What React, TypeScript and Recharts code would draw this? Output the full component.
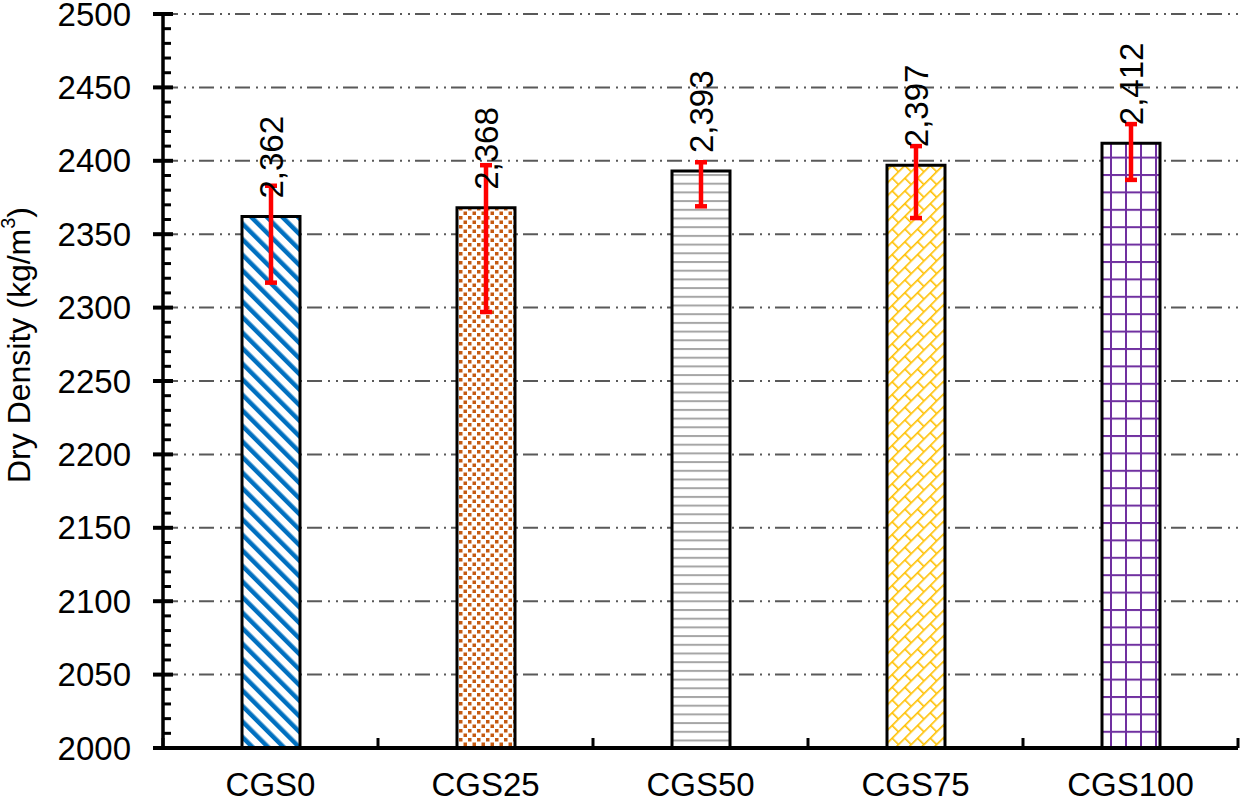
import {
  BarChart,
  Bar,
  XAxis,
  YAxis,
  CartesianGrid,
  ErrorBar,
  LabelList,
  Cell,
} from 'recharts'

const CATEGORIES = ['CGS0', 'CGS25', 'CGS50', 'CGS75', 'CGS100']
const DRY_DENSITY = [2362, 2368, 2393, 2397, 2412]
const ERR_MINUS = [45, 71, 24, 36, 25]
const ERR_PLUS = [21, 29, 6, 13, 13]
const MAJOR_TICKS = [2000, 2050, 2100, 2150, 2200, 2250, 2300, 2350, 2400, 2450, 2500]
const MINOR_STEP = 10
const PATTERN_IDS = ['pat-diag', 'pat-dots', 'pat-hlines', 'pat-brick', 'pat-grid']

const FONT = '"Liberation Sans", Arial, sans-serif'

const data = CATEGORIES.map((name, i) => ({
  name,
  density: DRY_DENSITY[i],
  err: [ERR_MINUS[i], ERR_PLUS[i]],
}))

const allTicks: number[] = []
for (let v = MAJOR_TICKS[0]; v <= MAJOR_TICKS[MAJOR_TICKS.length - 1]; v += MINOR_STEP) allTicks.push(v)

function YTick({ x, y, payload }: any) {
  const v = payload.value
  const major = v % 50 === 0
  return (
    <g>
      {major ? (
        <line x1={x - 10} x2={x + 10} y1={y} y2={y} stroke="#000" strokeWidth={4} />
      ) : (
        <line x1={x} x2={x + 8} y1={y} y2={y} stroke="#000" strokeWidth={3} />
      )}
      {major && (
        <text
          x={x - 32}
          y={y}
          textAnchor="end"
          dominantBaseline="central"
          fontSize={33}
          fontFamily={FONT}
          fill="#000"
        >
          {v}
        </text>
      )}
    </g>
  )
}

function XTick({ x, y, payload, index }: any) {
  const half = payload.offset || 107.5
  return (
    <g>
      <line x1={x - half} x2={x - half} y1={y} y2={y - 10} stroke="#000" strokeWidth={3} />
      {index === CATEGORIES.length - 1 && (
        <line x1={x + half} x2={x + half} y1={y} y2={y - 10} stroke="#000" strokeWidth={3} />
      )}
      <text x={x} y={y + 48} textAnchor="middle" fontSize={33} fontFamily={FONT} fill="#000">
        {payload.value}
      </text>
    </g>
  )
}

function ValueLabel({ x, y, width, value }: any) {
  const cx = x + width / 2
  const cy = y - 18
  return (
    <text
      transform={`translate(${cx}, ${cy}) rotate(-90)`}
      textAnchor="start"
      dominantBaseline="central"
      fontSize={33}
      fontFamily={FONT}
      fill="#000"
    >
      {Number(value).toLocaleString('en-US')}
    </text>
  )
}

function YTitle() {
  return (
    <text
      transform="translate(19, 345) rotate(-90)"
      textAnchor="middle"
      dominantBaseline="central"
      fontSize={32}
      fontFamily={FONT}
      fill="#000"
    >
      Dry Density (kg/m<tspan baselineShift="super" fontSize={20}>3</tspan>)
    </text>
  )
}

export default function App() {
  return (
    <div style={{ position: 'absolute', left: 0, top: 0, width: 1240, height: 802, background: '#fff' }}>
      <BarChart
        width={1240}
        height={802}
        data={data}
        margin={{ top: 14, right: 2, bottom: 0, left: 0 }}
      >
        <defs>
          <pattern id="pat-diag" patternUnits="userSpaceOnUse" width={11} height={11} patternTransform="rotate(-45)">
            <rect width={11} height={11} fill="#fff" />
            <rect x={0} y={0} width={4.5} height={11} fill="#0070C0" />
          </pattern>
          <pattern id="pat-dots" patternUnits="userSpaceOnUse" width={9} height={9}>
            <rect width={9} height={9} fill="#fff" />
            <rect x={0} y={0} width={3.5} height={3.5} fill="#C55A11" />
            <rect x={4.5} y={4.5} width={3.5} height={3.5} fill="#C55A11" />
          </pattern>
          <pattern id="pat-hlines" patternUnits="userSpaceOnUse" width={10} height={8.7}>
            <rect width={10} height={8.7} fill="#fff" />
            <rect x={0} y={0} width={10} height={2} fill="#A6A6A6" />
          </pattern>
          <pattern id="pat-brick" patternUnits="userSpaceOnUse" width={18} height={18} patternTransform="rotate(-45)">
            <rect width={18} height={18} fill="#fff" />
            <rect x={0} y={0} width={18} height={1.6} fill="#FFC000" />
            <rect x={0} y={9} width={18} height={1.6} fill="#FFC000" />
            <rect x={0} y={0} width={1.6} height={9} fill="#FFC000" />
            <rect x={9} y={9} width={1.6} height={9} fill="#FFC000" />
          </pattern>
          <pattern id="pat-grid" patternUnits="userSpaceOnUse" width={15} height={17.4}>
            <rect width={15} height={17.4} fill="#fff" />
            <rect x={0} y={0} width={15} height={2} fill="#7030A0" />
            <rect x={0} y={0} width={2} height={17.4} fill="#7030A0" />
          </pattern>
        </defs>
        <CartesianGrid
          vertical={false}
          horizontalValues={MAJOR_TICKS.slice(1)}
          stroke="#595959"
          strokeWidth={2}
          strokeDasharray="15 6 2 6 2 5"
        />
        <XAxis
          dataKey="name"
          height={54}
          tickSize={0}
          tickMargin={0}
          tickLine={false}
          axisLine={{ stroke: '#000', strokeWidth: 4 }}
          tick={<XTick />}
          interval={0}
        />
        <YAxis
          type="number"
          domain={[MAJOR_TICKS[0], MAJOR_TICKS[MAJOR_TICKS.length - 1]]}
          ticks={allTicks}
          interval={0}
          width={163}
          tickSize={0}
          tickMargin={0}
          tickLine={false}
          axisLine={{ stroke: '#000', strokeWidth: 3.5 }}
          tick={<YTick />}
          allowDataOverflow
          label={<YTitle />}
        />
        <Bar dataKey="density" barSize={58} stroke="#000" strokeWidth={3} isAnimationActive={false}>
          {data.map((d, i) => (
            <Cell key={d.name} fill={`url(#${PATTERN_IDS[i]})`} />
          ))}
          <ErrorBar dataKey="err" direction="y" width={6} stroke="#FF0000" strokeWidth={4.5} isAnimationActive={false} />
          <LabelList dataKey="density" content={<ValueLabel />} />
        </Bar>
      </BarChart>
    </div>
  )
}
